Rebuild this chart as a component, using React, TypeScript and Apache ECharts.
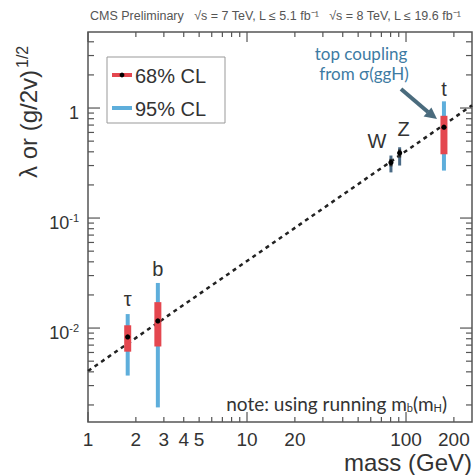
import React, { useEffect, useRef } from "react";
import * as echarts from "echarts";

// ---- axis ranges (log scales) ----
const X_MIN = 1;
const X_MAX = 260;
const Y_MIN = 0.0014;
const Y_MAX = 4.91;

// ---- measurements ----
const particles = ["τ", "b", "W", "Z", "t"];
const masses = [1.777, 2.75, 80.4, 91.19, 173.2];
const centers = [0.0083, 0.0116, 0.32, 0.39, 0.67];
const lo68 = [0.0061, 0.0068, 0.295, 0.355, 0.38];
const hi68 = [0.0106, 0.0172, 0.345, 0.42, 0.85];
const lo95 = [0.0037, 0.0019, 0.26, 0.3, 0.27];
const hi95 = [0.0134, 0.0257, 0.37, 0.44, 1.15];

// SM expectation (dashed line end points)
const smLineX = [1, 260];
const smLineY = [0.00407, 1.057];

// ---- tick labels ----
const xTickLabels = [1, 2, 3, 4, 5, 10, 20, 100, 200];
const yTickLabels = [1, 0.1, 0.01];
const yTickText = ["1", "{b|10}{s|-1}", "{b|10}{s|-2}"];
const xMajorTicks = [1, 10, 100];

const SANS = "'Liberation Sans', Arial, Helvetica, sans-serif";
const CAL = "Lato, 'Open Sans', sans-serif";
const AXIS_COLOR = "#555";
const BLUE = "#5eaedb";
const RED = "#e4474f";

function buildTicks() {
  const out: number[][] = [];
  // type: 0 x major, 1 x minor, 2 y major, 3 y minor
  for (let d = 1; d <= 100; d *= 10) {
    for (let k = 1; k <= 9; k++) {
      const v = k * d;
      if (v > X_MAX) continue;
      out.push([v, Y_MIN, xMajorTicks.includes(v) ? 0 : 1]);
    }
  }
  for (let e = -3; e <= 0; e++) {
    const d = Math.pow(10, e);
    for (let k = 1; k <= 9; k++) {
      const v = k * d;
      if (v < Y_MIN || v > Y_MAX) continue;
      out.push([X_MIN, v, k === 1 ? 2 : 3]);
    }
  }
  return out;
}

const labelOffsets: Record<string, number[]> = {
  "τ": [0, -15],
  b: [0, -14],
  W: [-14, -15],
  Z: [4, -18],
  t: [0, -12],
};

export default function App() {
  const ref = useRef<HTMLDivElement>(null);
  useEffect(() => {
    if (!ref.current) return;
    const chart = echarts.init(ref.current, null, { renderer: "svg" });

    const pointData = particles.map((p, i) => [
      masses[i],
      centers[i],
      lo68[i],
      hi68[i],
      lo95[i],
      hi95[i],
      i,
    ]);

    const tickLabelData: number[][] = [
      ...xTickLabels.map((v) => [v, Y_MIN, 0]),
      ...yTickLabels.map((v, i) => [X_MIN, v, 1 + i]),
    ];

    const option: any = {
      animation: false,
      backgroundColor: "#fff",
      grid: {
        left: 88,
        top: 32,
        width: 384,
        height: 390,
        show: true,
        borderColor: AXIS_COLOR,
        borderWidth: 1.5,
        backgroundColor: "transparent",
      },
      xAxis: {
        type: "log",
        logBase: 10,
        min: X_MIN,
        max: X_MAX,
        axisLine: { show: false },
        axisTick: { show: false },
        axisLabel: { show: false },
        splitLine: { show: false },
      },
      yAxis: {
        type: "log",
        logBase: 10,
        min: Y_MIN,
        max: Y_MAX,
        axisLine: { show: false },
        axisTick: { show: false },
        axisLabel: { show: false },
        splitLine: { show: false },
      },
      series: [
        {
          type: "line",
          data: smLineX.map((x, i) => [x, smLineY[i]]),
          symbol: "none",
          lineStyle: { color: "#222", width: 2.5, type: [4, 4] },
          z: 1,
        },
        {
          type: "custom",
          data: buildTicks(),
          clip: false,
          z: 2,
          renderItem: (params: any, api: any) => {
            const xv = api.value(0);
            const yv = api.value(1);
            const t = api.value(2);
            const lineStyle = { stroke: AXIS_COLOR, lineWidth: 1.2 };
            if (t <= 1) {
              const len = t === 0 ? 10 : 5;
              const pb = api.coord([xv, Y_MIN]);
              const pt = api.coord([xv, Y_MAX]);
              return {
                type: "group",
                children: [
                  { type: "line", shape: { x1: pb[0], y1: pb[1], x2: pb[0], y2: pb[1] - len }, style: lineStyle },
                  { type: "line", shape: { x1: pt[0], y1: pt[1], x2: pt[0], y2: pt[1] + len }, style: lineStyle },
                ],
              };
            }
            const len = t === 2 ? 12 : 6;
            const pl = api.coord([X_MIN, yv]);
            const pr = api.coord([X_MAX, yv]);
            return {
              type: "group",
              children: [
                { type: "line", shape: { x1: pl[0], y1: pl[1], x2: pl[0] + len, y2: pl[1] }, style: lineStyle },
                { type: "line", shape: { x1: pr[0], y1: pr[1], x2: pr[0] - len, y2: pr[1] }, style: lineStyle },
              ],
            };
          },
        },
        {
          type: "custom",
          data: tickLabelData,
          clip: false,
          z: 3,
          renderItem: (params: any, api: any) => {
            const xv = api.value(0);
            const yv = api.value(1);
            const t = api.value(2);
            const p = api.coord([xv, yv]);
            if (t === 0) {
              return {
                type: "text",
                x: p[0],
                y: p[1] + 17,
                style: {
                  text: String(xv),
                  align: "center",
                  verticalAlign: "middle",
                  fill: "#333",
                  fontSize: 19,
                  fontFamily: SANS,
                },
              };
            }
            return {
              type: "text",
              x: p[0] - 9,
              y: p[1] + 5,
              style: {
                text: yTickText[t - 1],
                align: "right",
                verticalAlign: "middle",
                fill: "#333",
                fontSize: 18,
                fontFamily: SANS,
                rich: {
                  b: { fontSize: 18, fontFamily: SANS, fill: "#333" },
                  s: { fontSize: 11, fontFamily: SANS, fill: "#333", verticalAlign: "top", padding: [0, 0, 10, 0] },
                },
              },
            };
          },
        },
        {
          type: "custom",
          data: pointData,
          clip: false,
          z: 5,
          encode: { x: 0, y: 1 },
          renderItem: (params: any, api: any) => {
            const m = api.value(0);
            const c = api.value(1);
            const idx = api.value(6);
            const name = particles[idx];
            const pc = api.coord([m, c]);
            const p68a = api.coord([m, api.value(2)]);
            const p68b = api.coord([m, api.value(3)]);
            const p95a = api.coord([m, api.value(4)]);
            const p95b = api.coord([m, api.value(5)]);
            const small = name === "W" || name === "Z";
            const w95 = small ? 3 : 4;
            const w68 = small ? 3 : 7;
            const col95 = small ? "#4a6a85" : BLUE;
            const col68 = small ? "#2a2a2a" : RED;
            const off = labelOffsets[name] || [0, -14];
            return {
              type: "group",
              children: [
                {
                  type: "rect",
                  shape: { x: pc[0] - w95 / 2, y: p95b[1], width: w95, height: p95a[1] - p95b[1] },
                  style: { fill: col95 },
                },
                {
                  type: "rect",
                  shape: { x: pc[0] - w68 / 2, y: p68b[1], width: w68, height: p68a[1] - p68b[1] },
                  style: { fill: col68 },
                },
                {
                  type: "circle",
                  shape: { cx: pc[0], cy: pc[1], r: 2.6 },
                  style: { fill: "#000" },
                },
                {
                  type: "text",
                  x: pc[0] + off[0],
                  y: p95b[1] + off[1],
                  style: {
                    text: name,
                    align: "center",
                    verticalAlign: "middle",
                    fill: "#333",
                    fontSize: 20,
                    fontFamily: SANS,
                  },
                },
              ],
            };
          },
        },
      ],
      graphic: [
        // header
        {
          type: "text",
          left: 90,
          top: 9,
          style: {
            text: "CMS Preliminary   √s = 7 TeV, L ≤ 5.1 fb⁻¹   √s = 8 TeV, L ≤ 19.6 fb⁻¹",
            fill: "#555",
            fontSize: 12.5,
            fontFamily: SANS,
          },
        },
        // y axis title
        {
          type: "text",
          x: 28,
          y: 178,
          rotation: Math.PI / 2,
          style: {
            text: "{m|λ or (g/2v)}{s|1/2}",
            align: "left",
            verticalAlign: "middle",
            fill: "#333",
            rich: {
              m: { fontSize: 24, fontFamily: SANS, fill: "#333" },
              s: { fontSize: 16, fontFamily: SANS, fill: "#333", verticalAlign: "top", padding: [0, 0, 12, 2] },
            },
          },
        },
        // x axis title
        {
          type: "text",
          x: 472,
          y: 462,
          style: {
            text: "mass (GeV)",
            align: "right",
            verticalAlign: "middle",
            fill: "#333",
            fontSize: 24,
            fontFamily: SANS,
          },
        },
        // legend
        {
          type: "rect",
          shape: { x: 107, y: 57, width: 118, height: 66 },
          style: { fill: "#fff", stroke: "#999", lineWidth: 1 },
          z: 10,
        },
        { type: "rect", shape: { x: 112, y: 73, width: 20, height: 4 }, style: { fill: RED }, z: 11 },
        { type: "circle", shape: { cx: 122, cy: 75, r: 2.4 }, style: { fill: "#000" }, z: 12 },
        { type: "rect", shape: { x: 112, y: 106, width: 20, height: 4 }, style: { fill: BLUE }, z: 11 },
        {
          type: "text",
          x: 135,
          y: 76,
          z: 11,
          style: { text: "68% CL", verticalAlign: "middle", fill: "#333", fontSize: 20, fontFamily: SANS },
        },
        {
          type: "text",
          x: 135,
          y: 109,
          z: 11,
          style: { text: "95% CL", verticalAlign: "middle", fill: "#333", fontSize: 20, fontFamily: SANS },
        },
        // annotation: top coupling
        {
          type: "text",
          x: 361,
          y: 53,
          style: { text: "top coupling", align: "center", verticalAlign: "middle", fill: "#3d7ba3", fontSize: 17, fontFamily: CAL },
        },
        {
          type: "text",
          x: 364,
          y: 73,
          style: { text: "from σ(ggH)", align: "center", verticalAlign: "middle", fill: "#3d7ba3", fontSize: 17, fontFamily: CAL },
        },
        {
          type: "line",
          shape: { x1: 401, y1: 89, x2: 428, y2: 112 },
          style: { stroke: "#4a6b7d", lineWidth: 4 },
        },
        {
          type: "polygon",
          shape: { points: [[437, 119], [423.6, 116.6], [431.4, 107.6]] },
          style: { fill: "#4a6b7d" },
        },
        // note
        {
          type: "text",
          x: 447,
          y: 403,
          style: {
            text: "{n|note: using running m}{u|b}{n|(m}{u|H}{n|)}",
            align: "right",
            verticalAlign: "middle",
            rich: {
              n: { fontSize: 19, fontFamily: CAL, fill: "#333" },
              u: { fontSize: 11, fontFamily: CAL, fill: "#333", verticalAlign: "bottom", padding: [8, 0, 0, 0] },
            },
          },
        },
      ],
    };
    chart.setOption(option);
    return () => chart.dispose();
  }, []);
  return (
    <div
      ref={ref}
      style={{ position: "absolute", left: 0, top: 0, width: 476, height: 475 }}
    />
  );
}
